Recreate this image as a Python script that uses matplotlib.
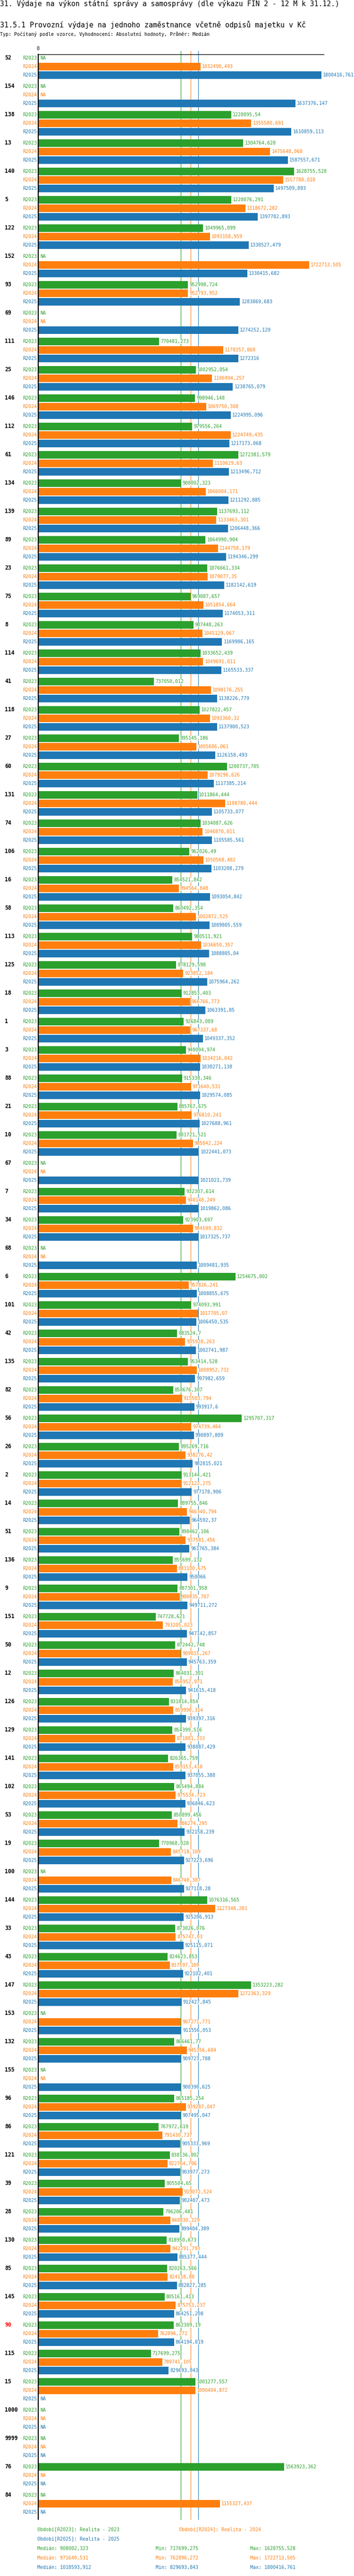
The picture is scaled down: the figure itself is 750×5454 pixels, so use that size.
import numpy as np
import matplotlib
matplotlib.use("Agg")
import matplotlib.pyplot as plt
import matplotlib.transforms as mtransforms

W, H, DPI = 750, 5454, 100
NA = np.nan

title = "31. Výdaje na výkon státní správy a samosprávy (dle výkazu FIN 2 - 12 M k 31.12.)"
subtitle = "31.5.1 Provozní výdaje na jednoho zaměstnance včetně odpisů majetku v Kč"
typ_line = "Typ: Počítaný podle vzorce, Vyhodnocení: Absolutní hodnoty, Průměr: Medián"

groups = ["52", "154", "138", "13", "140", "5", "122", "152", "93", "69",
          "111", "25", "146", "112", "61", "134", "139", "89", "23", "75",
          "8", "114", "41", "118", "27", "60", "131", "74", "106", "16",
          "58", "113", "125", "18", "1", "3", "88", "21", "10", "67",
          "7", "34", "68", "6", "101", "42", "135", "82", "56", "26",
          "2", "14", "51", "136", "9", "151", "50", "12", "126", "129",
          "141", "102", "53", "19", "100", "144", "33", "43", "147", "153",
          "132", "155", "96", "86", "121", "39", "28", "130", "85", "145",
          "90", "115", "15", "1000", "9999", "76", "84"]

r2023 = [NA, NA, 1228095.54, 1304764.628, 1628755.528, 1228076.291, 1049965.099, NA, 952998.724, NA,
         770481.273, 1002952.054, 998946.148, 979556.264, 1272381.579, 908002.323, 1137693.112, 1064990.904, 1076661.334, 969087.657,
         987448.263, 1033652.439, 737050.012, 1027822.457, 895145.186, 1200737.705, 1011864.444, 1034087.626, 962026.49, 854521.842,
         860492.354, 980511.921, 878129.598, 912853.403, 926843.009, 940004.974, 915338.346, 885767.675, 881721.521, NA,
         932307.614, 923903.697, NA, 1254675.002, 974093.991, 883524.7, 953414.528, 858676.307, 1295707.317, 895269.716,
         913144.421, 889755.846, 898462.106, 855699.132, 887301.958, 747728.621, 872442.748, 864031.301, 831814.854, 854399.516,
         826365.759, 865494.884, 850899.456, 770968.028, NA, 1076316.565, 873026.076, 824623.853, 1353223.282, NA,
         866461.77, NA, 865185.254, 767972.619, 838136.002, 805504.65, 796206.481, 818950.673, 820263.566, 805161.413,
         862309.19, 717699.275, 1001277.557, NA, NA, 1563923.362, NA]

r2024 = [1032490.493, NA, 1355580.691, 1475648.068, 1557788.018, 1318672.282, 1093158.959, 1722713.505, 952793.952, NA,
         1178357.868, 1106994.257, 1069750.308, 1224749.435, 1110629.63, 1066004.171, 1133463.301, 1144758.179, 1079077.35, 1051854.664,
         1045129.067, 1049691.011, 1098176.255, 1093360.32, 1005606.061, 1079296.626, 1188780.444, 1046870.011, 1050568.482, 894564.848,
         1002872.525, 1036650.357, 923852.184, 966766.773, 967337.68, 1034216.842, 971640.531, 976810.241, 985042.224, NA,
         940148.249, 984599.832, NA, 957826.241, 1017705.07, 935928.263, 1008952.732, 915503.794, 974739.464, 938276.42,
         912122.275, 946340.794, 937581.456, 883100.675, 900835.707, 793205.023, 909015.267, 856952.971, 859990.314, 871881.333,
         859153.418, 875534.723, 886274.295, 845718.109, 846748.387, 1127348.201, 875747.03, 837597.109, 1272363.329, 907271.771,
         945356.684, NA, 939287.047, 791430.737, 822764.706, 919072.524, 840830.229, 842291.793, 824118.88, 875753.237,
         762896.272, 789741.105, 1000404.872, NA, NA, NA, 1155327.437]

r2025 = [1800416.761, 1637376.147, 1610859.113, 1587557.671, 1497509.893, 1397782.893, 1338527.479, 1330415.682, 1283869.683, 1274252.129,
         1272316, 1238765.079, 1224995.096, 1217173.068, 1213496.712, 1211292.885, 1206448.366, 1194346.299, 1182142.619, 1174053.311,
         1169986.165, 1165533.337, 1138226.779, 1137900.523, 1126158.493, 1117385.214, 1105733.077, 1105585.561, 1103208.279, 1093054.842,
         1089805.559, 1088805.04, 1075964.262, 1063391.85, 1049337.352, 1030271.138, 1029574.085, 1027688.961, 1022441.073, 1021021.739,
         1019862.086, 1017325.737, 1009481.935, 1008855.675, 1006450.535, 1002741.987, 997982.659, 993917.6, 990897.809, 982815.021,
         977178.906, 964592.37, 961765.384, 950066, 949711.272, 947142.857, 945763.359, 941615.418, 939397.316, 938887.429,
         937855.388, 936846.623, 932158.239, 927223.696, 927118.28, 925206.913, 925115.071, 922102.401, 912427.845, 911556.053,
         909723.788, 908390.625, 907495.047, 905333.969, 903977.273, 902407.473, 899404.389, 885377.444, 882827.285, 864251.208,
         864194.819, 829693.843, NA, NA, NA, NA, NA]

periods = ["R2023", "R2024", "R2025"]
period_names = ["Realita - 2023", "Realita - 2024", "Realita - 2025"]
colors = ["#2ca02c", "#ff7f0e", "#1f77b4"]
medians = [908002.323, 971640.531, 1018593.912]
mins = [717699.275, 762896.272, 829693.843]
maxs = [1628755.528, 1722713.505, 1800416.761]
highlight = "90"


def fmt(v):
    s = f"{v:.3f}".rstrip("0").rstrip(".")
    return s.replace(".", ",")


def fx(px):
    return px / W


def fy(py):
    return 1 - py / H


plt.rcParams["font.family"] = ["DejaVu Sans Mono"]
fig = plt.figure(figsize=(W / DPI, H / DPI), dpi=DPI, facecolor="white")

fig.text(0, fy(8), title, fontsize=10.6, va="center", ha="left")
fig.text(0, fy(52), subtitle, fontsize=10.8, va="center", ha="left")
fig.text(0, fy(73), typ_line, fontsize=7.1, va="center", ha="left")

# plot area in pixels
top, bottom, left, right = 115, 5334, 80.5, 686
ax = fig.add_axes([fx(left), fy(bottom), (right - left) / W, (bottom - top) / H])
ax.set_axis_off()

vals = np.array([r2023, r2024, r2025], dtype=float)
xmax = np.nanmax(vals) * 1.009
ax.set_xlim(0, xmax)
ax.set_ylim(bottom - top, 0)

first, row_gap, group_gap = 8, 18, 60
trans = mtransforms.blended_transform_factory(fig.transFigure, ax.transData)

for g, name in enumerate(groups):
    y0 = first + g * group_gap
    ax.text(fx(10), y0, name, transform=trans, ha="left", va="center",
            fontsize=8.3, fontweight="bold",
            color="red" if name == highlight else "black")
    for r in range(3):
        y = y0 + r * row_gap
        c = colors[r]
        v = vals[r, g]
        ax.text(fx(78), y, periods[r], transform=trans, ha="right", va="center",
                fontsize=7.2, color=c)
        if np.isnan(v):
            ax.annotate("NA", xy=(0, y), xytext=(4.5, 0), textcoords="offset pixels",
                        ha="left", va="center", fontsize=7.2, color=c, zorder=5,
                        annotation_clip=False)
            continue
        ax.barh(y, v, height=16, color=c, zorder=2)
        ax.annotate(fmt(v), xy=(v, y), xytext=(3, 0), textcoords="offset pixels",
                    ha="left", va="center", fontsize=7.2, color=c, zorder=5,
                    annotation_clip=False,
                    bbox=dict(facecolor="white", edgecolor="none", pad=0))

ext = 1 + 7 / (bottom - top)
for m, c in zip(medians, colors):
    ax.axvline(m, ymin=0, ymax=ext, color=c, lw=0.8, zorder=1, clip_on=False)

ax.axvline(0, color="black", lw=1.6, zorder=4, clip_on=False)
ax.axhline(0, color="black", lw=1.0, zorder=4, clip_on=False)
ax.text(0, -12, "0", ha="center", va="center", fontsize=7.2, clip_on=False)

# legend
leg_pos = [(79, 5356), (379, 5356), (79, 5376)]
for (px, py), p, nm, c in zip(leg_pos, periods, period_names, colors):
    fig.text(fx(px), fy(py), f"Období[{p}]: {nm}", color=c, fontsize=7.2, va="center")
for i, c in enumerate(colors):
    py = 5396 + i * 20
    fig.text(fx(79), fy(py), f"Medián: {fmt(medians[i])}", color=c, fontsize=7.2, va="center")
    fig.text(fx(330), fy(py), f"Min: {fmt(mins[i])}", color=c, fontsize=7.2, va="center")
    fig.text(fx(530), fy(py), f"Max: {fmt(maxs[i])}", color=c, fontsize=7.2, va="center")

fig.savefig("out.png", dpi=DPI, facecolor="white")
